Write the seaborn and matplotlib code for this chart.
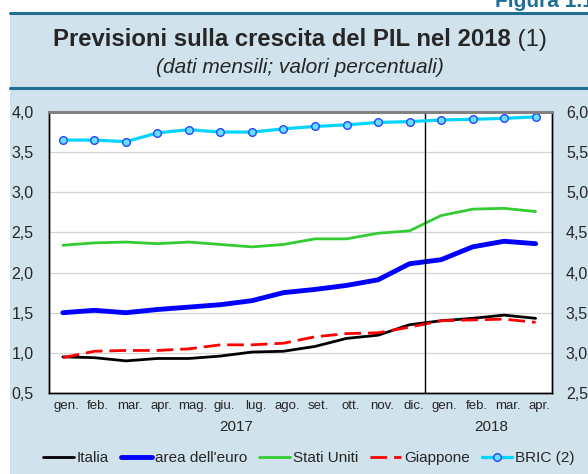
import numpy as np
import pandas as pd
import matplotlib
matplotlib.use("Agg")
import matplotlib.pyplot as plt
import seaborn as sns

# data (monthly, Jan 2017 - Apr 2018)
months = ["gen.", "feb.", "mar.", "apr.", "mag.", "giu.", "lug.", "ago.",
          "set.", "ott.", "nov.", "dic.", "gen.", "feb.", "mar.", "apr."]
italia = [0.95, 0.94, 0.90, 0.93, 0.93, 0.96, 1.01, 1.02,
          1.08, 1.18, 1.22, 1.35, 1.40, 1.43, 1.47, 1.43]
euro = [1.50, 1.53, 1.50, 1.54, 1.57, 1.60, 1.65, 1.75,
        1.79, 1.84, 1.91, 2.11, 2.16, 2.32, 2.39, 2.36]
usa = [2.34, 2.37, 2.38, 2.36, 2.38, 2.35, 2.32, 2.35,
       2.42, 2.42, 2.49, 2.52, 2.71, 2.79, 2.80, 2.76]
giappone = [0.94, 1.02, 1.03, 1.03, 1.05, 1.10, 1.10, 1.12,
            1.20, 1.24, 1.25, 1.32, 1.40, 1.41, 1.42, 1.38]
bric = [5.65, 5.65, 5.63, 5.74, 5.78, 5.75, 5.75, 5.79,
        5.82, 5.84, 5.87, 5.88, 5.90, 5.91, 5.92, 5.94]
left_ticks = [0.5, 1.0, 1.5, 2.0, 2.5, 3.0, 3.5, 4.0]
right_ticks = [2.5, 3.0, 3.5, 4.0, 4.5, 5.0, 5.5, 6.0]

df = pd.DataFrame({"x": np.arange(len(months)), "Italia": italia,
                   "area dell'euro": euro, "Stati Uniti": usa,
                   "Giappone": giappone, "BRIC (2)": bric})

sns.set_style("white")
plt.rcParams["font.family"] = ["Liberation Sans", "DejaVu Sans"]

panel = "#d0e2ec"
W, H = 588, 474
fig = plt.figure(figsize=(W / 100, H / 100), dpi=100)
fig.patch.set_facecolor(panel)

# white margins (top strip and left strip), rules
fig.add_artist(plt.Rectangle((0, 1 - 13 / H), 1, 13 / H, transform=fig.transFigure,
                             facecolor="white", edgecolor="none"))
fig.add_artist(plt.Rectangle((0, 0), 10 / W, 1, transform=fig.transFigure,
                             facecolor="white", edgecolor="none"))
for yy in (13, 88):
    fig.add_artist(plt.Line2D([10 / W, 1], [1 - yy / H] * 2, color="#236f91", lw=2.2))
fig.text(495 / W, 1 - 7 / H, "Figura 1.1", color="#1f6f96", fontsize=15,
         fontweight="bold", va="baseline")

t1 = fig.text(0, 1 - 46 / H, "Previsioni sulla crescita del PIL nel 2018", fontsize=17.2,
              fontweight="bold", va="baseline")
t2 = fig.text(0, 1 - 46 / H, " (1)", fontsize=17.2, va="baseline")
fig.canvas.draw()
r = fig.canvas.get_renderer()
w1 = t1.get_window_extent(r).width
w2 = t2.get_window_extent(r).width
x0 = 300 - (w1 + w2) / 2
t1.set_x(x0 / W)
t2.set_x((x0 + w1) / W)
fig.text(300 / W, 1 - 73 / H, "(dati mensili; valori percentuali)", fontsize=15,
         style="italic", ha="center", va="baseline")

ax = fig.add_axes([49 / W, 1 - 393 / H, (552 - 49) / W, (393 - 112) / H])
ax.set_facecolor("white")
ax2 = ax.twinx()

sns.lineplot(data=df, x="x", y="Italia", ax=ax, color="black", lw=2, label="Italia", legend=False)
sns.lineplot(data=df, x="x", y="area dell'euro", ax=ax, color="#0000ff", lw=3.5,
             label="area dell'euro", legend=False)
sns.lineplot(data=df, x="x", y="Stati Uniti", ax=ax, color="#33cc33", lw=2,
             label="Stati Uniti", legend=False)
sns.lineplot(data=df, x="x", y="Giappone", ax=ax, color="#ff0000", lw=2,
             label="Giappone", legend=False)
ax.lines[-1].set_dashes([6, 2.5])
sns.lineplot(data=df, x="x", y="BRIC (2)", ax=ax2, color="#00d4ff", lw=2.3, marker="o",
             markersize=5.5, markerfacecolor="#66e0ff", markeredgecolor="#2244ff",
             markeredgewidth=1, label="BRIC (2)", legend=False)

ax.set_xlim(-0.44, 15.52)
ax.set_ylim(0.5, 4.0)
ax2.set_ylim(2.5, 6.0)
ax.set_yticks(left_ticks)
ax.set_yticklabels([f"{v:.1f}".replace(".", ",") for v in left_ticks], fontsize=11.5)
ax2.set_yticks(right_ticks)
ax2.set_yticklabels([f"{v:.1f}".replace(".", ",") for v in right_ticks], fontsize=11.5)
ax.tick_params(axis="y", length=0, pad=11)
ax2.tick_params(axis="y", length=0, pad=10)
ax.yaxis.grid(True, color="#d4d4d4", lw=0.9)
ax.set_axisbelow(True)
ax.set_xlabel("")
ax.set_ylabel("")
ax2.set_ylabel("")

ax.set_xticks(np.arange(0.5, 15, 1))
ax.set_xticklabels([])
ax.tick_params(axis="x", direction="in", length=6, width=1, color="black")
ax.axvline(11.5, color="black", lw=1)
for i, m in enumerate(months):
    ax.text(i + 0.12, -0.025, m, transform=ax.get_xaxis_transform(), ha="center",
            va="top", fontsize=9.5)
ax.text(5.5, -0.095, "2017", transform=ax.get_xaxis_transform(), ha="center", va="top", fontsize=11)
ax.text(13.6, -0.095, "2018", transform=ax.get_xaxis_transform(), ha="center", va="top", fontsize=11)

for a in (ax, ax2):
    for s in ("left", "bottom", "right"):
        a.spines[s].set_color("black")
        a.spines[s].set_linewidth(1)
    a.spines["top"].set_color("#808080")
    a.spines["top"].set_linewidth(2)

handles = ax.lines[:4] + ax2.lines[:1]
labels = ["Italia", "area dell'euro", "Stati Uniti", "Giappone", "BRIC (2)"]
fig.legend(handles, labels, loc="center", bbox_to_anchor=(309 / W, 1 - 458 / H), ncol=5,
           frameon=False, fontsize=11, handlelength=2.0, handletextpad=0.2,
           columnspacing=0.8, borderpad=0)

fig.savefig("out.png", dpi=100, facecolor=fig.get_facecolor())
